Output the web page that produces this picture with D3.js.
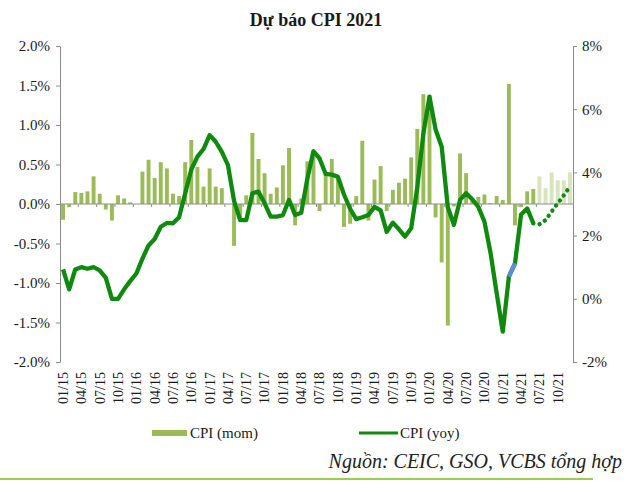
<!DOCTYPE html>
<html>
<head>
<meta charset="utf-8">
<script src="https://cdn.jsdelivr.net/npm/d3@7"></script>
<style>
  html, body { margin: 0; padding: 0; background: #ffffff; }
  svg { display: block; }
  text { font-family: "Liberation Serif", "Times New Roman", serif; }
</style>
</head>
<body>
<svg id="chart" width="630" height="481"></svg>
<script>
// ---- data ----
const years = ["15", "16", "17", "18", "19", "20", "21"];
const monthNums = ["01","02","03","04","05","06","07","08","09","10","11","12"];
const months = [];
years.forEach(y => monthNums.forEach(m => months.push(m + "/" + y)));

const tickLabels = ["01/15","04/15","07/15","10/15","01/16","04/16","07/16","10/16",
  "01/17","04/17","07/17","10/17","01/18","04/18","07/18","10/18",
  "01/19","04/19","07/19","10/19","01/20","04/20","07/20","10/20",
  "01/21","04/21","07/21","10/21"];

// CPI month-over-month (%), left axis
const momValues = [
  -0.20, -0.04, 0.15, 0.14, 0.16, 0.35, 0.13, -0.07, -0.21, 0.11, 0.07, 0.02,
   0.00, 0.41, 0.56, 0.33, 0.53, 0.45, 0.13, 0.10, 0.53, 0.81, 0.47, 0.22,
   0.45, 0.22, 0.20, 0.00, -0.53, -0.17, 0.11, 0.90, 0.57, 0.39, 0.13, 0.21,
   0.49, 0.71, -0.27, 0.07, 0.54, 0.60, -0.09, 0.38, 0.57, 0.33, -0.29, -0.25,
   0.10, 0.80, -0.21, 0.31, 0.48, -0.09, 0.18, 0.27, 0.32, 0.59, 0.95, 1.39,
   1.38, -0.17, -0.74, -1.54, -0.03, 0.64, 0.39, 0.07, 0.09, 0.12, 0.01, 0.10,
   0.05, 1.52, -0.27, -0.04, 0.16, 0.19, 0.35, 0.20, 0.40, 0.30, 0.30, 0.40
];
// CPI year-over-year (%), right axis
const yoyValues = [
  0.93, 0.30, 0.93, 1.00, 0.95, 1.00, 0.90, 0.66, 0.00, 0.00, 0.30, 0.56,
  0.80, 1.27, 1.69, 1.89, 2.28, 2.40, 2.39, 2.58, 3.34, 4.09, 4.50, 4.74,
  5.18, 4.97, 4.65, 4.23, 3.10, 2.49, 2.49, 3.34, 3.39, 3.02, 2.60, 2.60,
  2.65, 3.13, 2.65, 2.72, 3.80, 4.67, 4.44, 3.95, 3.93, 3.86, 3.30, 2.85,
  2.52, 2.58, 2.65, 2.91, 2.80, 2.12, 2.41, 2.20, 1.97, 2.23, 3.52, 5.23,
  6.40, 5.36, 4.81, 2.90, 2.34, 3.13, 3.34, 3.15, 2.91, 2.44, 1.45, 0.18,
  -1.04, 0.70, 1.12, 2.67, 2.86, 2.39, 2.36, 2.49, 2.76, 3.02, 3.28, 3.55
];
const forecastStart = "07/21";   // forecast months (lighter bars, dotted line)
const highlightFrom = "02/21";   // segment drawn in blue
const highlightTo = "03/21";

const leftTicks = [-2, -1.5, -1, -0.5, 0, 0.5, 1, 1.5, 2];
const rightTicks = [-2, 0, 2, 4, 6, 8];

// ---- layout ----
const svg = d3.select("#chart");
const L = 60, R = 573, T = 46, B = 362;
const axisColor = "#8c8c8c";
const textColor = "#1a1a1a";

const x = d3.scaleBand().domain(months).range([L, R]).paddingInner(0.36).paddingOuter(0.18);
const xStep = d3.scaleBand().domain(months).range([L, R]).padding(0);
const yL = d3.scaleLinear().domain([-2, 2]).range([B, T]);
const yR = d3.scaleLinear().domain([-2, 8]).range([B, T]);
const fIdx = months.indexOf(forecastStart);

// title
svg.append("text").attr("x", 316).attr("y", 26).attr("text-anchor", "middle")
  .attr("font-size", 18).attr("font-weight", "bold").attr("fill", textColor)
  .text("Dự báo CPI 2021");

// bars
svg.append("g").selectAll("rect").data(months).join("rect")
  .attr("x", m => x(m))
  .attr("width", x.bandwidth())
  .attr("y", (m, i) => yL(Math.max(0, momValues[i])))
  .attr("height", (m, i) => Math.abs(yL(momValues[i]) - yL(0)))
  .attr("fill", (m, i) => i >= fIdx ? "#d7e4bd" : "#9bbb59");

// x axis at zero
const xAxis = svg.append("g").attr("transform", `translate(0,${yL(0)})`);
xAxis.append("line").attr("x1", L).attr("x2", R).attr("y1", 0).attr("y2", 0)
  .attr("stroke", axisColor).attr("stroke-width", 1);
xAxis.selectAll("line.tk").data(months.filter((m, i) => i % 3 === 0 && i > 0)).join("line")
  .attr("class", "tk")
  .attr("x1", m => xStep(m)).attr("x2", m => xStep(m))
  .attr("y1", 0).attr("y2", 3).attr("stroke", axisColor);

// x labels
svg.append("g").selectAll("text").data(tickLabels).join("text")
  .attr("transform", m => `translate(${xStep(m) + xStep.bandwidth() / 2},372) rotate(-90)`)
  .attr("text-anchor", "end").attr("dy", "0.35em")
  .attr("font-size", 14).attr("fill", textColor)
  .text(d => d);

// left axis
const gL = svg.append("g").attr("transform", `translate(${L},0)`)
  .call(d3.axisLeft(yL).tickValues(leftTicks).tickSize(4).tickSizeOuter(0)
    .tickFormat(d => d.toFixed(1) + "%"));
gL.select(".domain").attr("stroke", axisColor);
gL.selectAll(".tick line").attr("stroke", axisColor);
gL.selectAll(".tick text").attr("font-family", "Liberation Serif").attr("font-size", 15)
  .attr("fill", textColor).attr("x", -10);

// right axis
const gR = svg.append("g").attr("transform", `translate(${R},0)`)
  .call(d3.axisRight(yR).tickValues(rightTicks).tickSize(4).tickSizeOuter(0)
    .tickFormat(d => d + "%"));
gR.select(".domain").attr("stroke", axisColor);
gR.selectAll(".tick line").attr("stroke", axisColor);
gR.selectAll(".tick text").attr("font-family", "Liberation Serif").attr("font-size", 15)
  .attr("fill", textColor).attr("x", 9);

// yoy line
const pts = months.map((m, i) => ({ m, i, v: yoyValues[i] }));
const line = d3.line().x(d => xStep(d.m) + xStep.bandwidth() / 2).y(d => yR(d.v));
const lineColor = "#0f8a0f";
svg.append("path").datum(pts.slice(0, fIdx))
  .attr("d", line).attr("fill", "none").attr("stroke", lineColor)
  .attr("stroke-width", 4.3).attr("stroke-linejoin", "round");
const hA = months.indexOf(highlightFrom), hB = months.indexOf(highlightTo);
svg.append("path").datum(pts.slice(hA, hB + 1))
  .attr("d", line).attr("fill", "none").attr("stroke", "#5b8fd4")
  .attr("stroke-width", 4.3);
svg.append("path").datum(pts.slice(fIdx - 1))
  .attr("d", line).attr("fill", "none").attr("stroke", lineColor)
  .attr("stroke-width", 4.3).attr("stroke-linecap", "round")
  .attr("stroke-dasharray", "0.1,6.2");

// legend
const lg = svg.append("g");
lg.append("rect").attr("x", 152).attr("y", 430).attr("width", 35).attr("height", 6).attr("fill", "#9bbb59");
lg.append("text").attr("x", 190).attr("y", 433).attr("dy", "0.35em").attr("font-size", 15)
  .attr("fill", textColor).text("CPI (mom)");
lg.append("line").attr("x1", 359).attr("x2", 398).attr("y1", 433).attr("y2", 433)
  .attr("stroke", lineColor).attr("stroke-width", 3);
lg.append("text").attr("x", 400).attr("y", 433).attr("dy", "0.35em").attr("font-size", 15)
  .attr("fill", textColor).text("CPI (yoy)");

// source
svg.append("text").attr("x", 622).attr("y", 468).attr("text-anchor", "end")
  .attr("font-size", 20).attr("font-style", "italic").attr("fill", "#222")
  .text("Nguồn: CEIC, GSO, VCBS tổng hợp");
svg.append("line").attr("x1", 0).attr("x2", 593).attr("y1", 479).attr("y2", 479)
  .attr("stroke", "#92d050").attr("stroke-width", 2);
</script>
</body>
</html>
